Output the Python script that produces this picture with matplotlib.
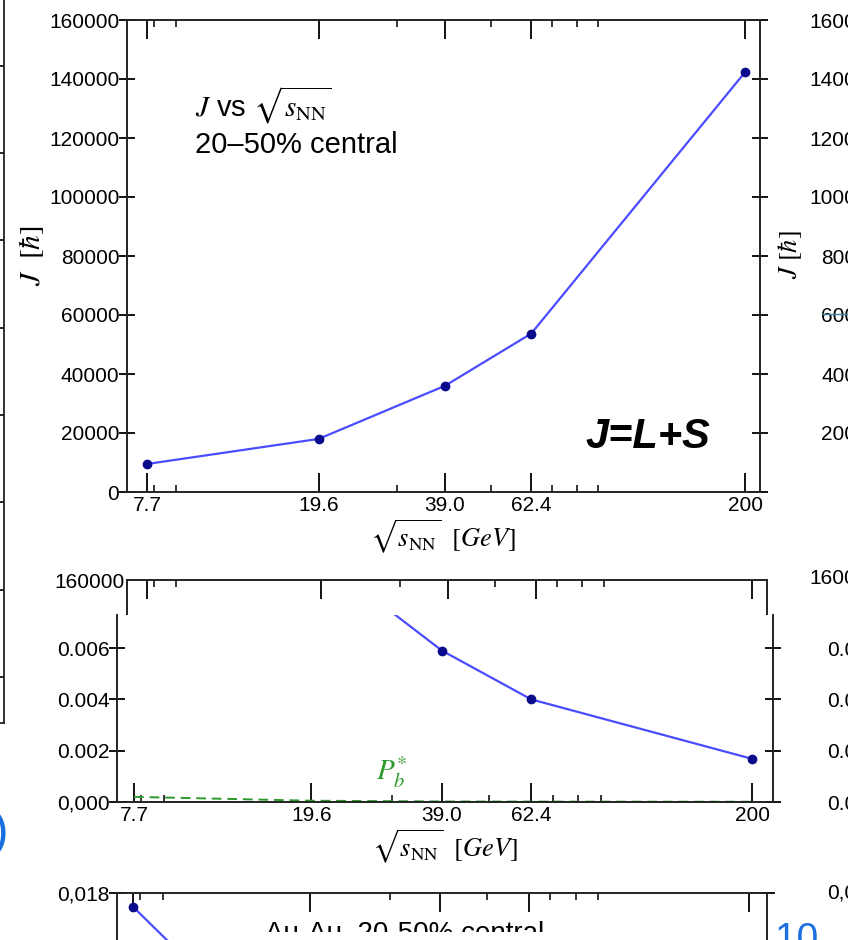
import numpy as np
import matplotlib
matplotlib.use("Agg")
import matplotlib.pyplot as plt
from matplotlib.patches import Rectangle

plt.rcParams['font.family'] = ['Liberation Sans', 'DejaVu Sans']
plt.rcParams['mathtext.fontset'] = 'stix'

# data
energies = [7.7, 19.6, 39.0, 62.4, 200]
energy_labels = ['7.7', '19.6', '39.0', '62.4', '200']
minor_energies = [8, 9, 30, 50, 70, 80, 90]
J_total = [9500, 18000, 36000, 53700, 142300]
P_lambda = [0.0175, 0.0098, 0.0059, 0.0040, 0.00168]
P_b = [0.0002, 0.00005, 0.00002, 0.000015, 0.00001]
P_bottom = [0.017, 0.0045, 0.0022, 0.0013, 0.0006]
J_ticks = [0, 20000, 40000, 60000, 80000, 100000, 120000, 140000, 160000]
P_ticks = [0.0, 0.002, 0.004, 0.006]
P_tick_labels = ['0,000', '0.002', '0.004', '0.006']

W, H = 848, 940
fig = plt.figure(figsize=(W / 100, H / 100), dpi=100)


def px(l, t, r, b):
    return [l / W, 1 - b / H, (r - l) / W, (b - t) / H]


def style_x(ax, top=True):
    ax.set_xscale('log')
    ax.set_xticks(energies)
    ax.set_xticklabels(energy_labels)
    ax.set_xticks(minor_energies, minor=True)
    ax.xaxis.set_minor_formatter(matplotlib.ticker.NullFormatter())
    ax.tick_params(axis='x', which='major', direction='in', length=14, width=1.3,
                   top=top, labelsize=15, pad=3)
    ax.tick_params(axis='x', which='minor', direction='in', length=5, width=1.1, top=top)
    ax.tick_params(axis='y', which='major', direction='inout', length=11, width=1.3,
                   right=True, labelsize=15, pad=0)
    ax.tick_params(axis='y', which='minor', length=0)
    for s in ax.spines.values():
        s.set_linewidth(1.4)
        s.set_color('#222222')


xlabel = r'$\sqrt{s_{\rm NN}}\ \ [GeV]$'
blue = '#4a4cff'
navy = '#0a0a8c'

# ---- main panel: J vs sqrt(s)
ax = fig.add_axes(px(127, 20, 760, 492))
ax.plot(energies, J_total, '-', color=blue, lw=1.6, marker='o', ms=6,
        mfc=navy, mec=navy)
style_x(ax)
ax.set_xlim(6.9, 217)
ax.set_ylim(0, 160000)
ax.set_yticks(J_ticks)
ax.set_xlabel(xlabel, fontsize=19, labelpad=2)
fig.text(32 / W, 1 - 256 / H, r'$J\ \ [\hbar]$', rotation=90, fontsize=21,
         ha='center', va='center')
ax.text((195 - 127) / 633, 1 - (105 - 20) / 472, r'$J$ vs $\sqrt{s_{\rm NN}}$',
        transform=ax.transAxes, fontsize=21, ha='left', va='center')
ax.text((195 - 127) / 633, 1 - (145 - 20) / 472, '20\u201350% central',
        transform=ax.transAxes, fontsize=21, ha='left', va='center')
ax.text((585 - 127) / 633, 1 - (437 - 20) / 472, 'J=L+S', transform=ax.transAxes,
        fontsize=30, fontweight='bold', fontstyle='italic', ha='left', va='center')

# ---- ghost frame of the panel underneath
gh = fig.add_axes(px(127, 580, 767, 615))
style_x(gh)
gh.set_xlim(6.9, 217)
gh.set_ylim(160000 - 35 * 160000 / 471, 160000)
gh.set_yticks([160000])
gh.spines['bottom'].set_visible(False)
gh.tick_params(axis='x', which='both', bottom=False, labelbottom=False)
gh.tick_params(axis='y', which='major', length=0, pad=2)

# ---- lower panel: polarization
ax2 = fig.add_axes(px(117, 615, 773, 802))
ax2.plot(energies, P_lambda, '-', color=blue, lw=1.6, marker='o', ms=6,
         mfc=navy, mec=navy)
ax2.plot(energies, P_b, '--', color='#2e9a2e', lw=1.4, dashes=(5, 3))
style_x(ax2, top=False)
ax2.spines['top'].set_visible(False)
ax2.set_xlim(7.04, 223)
ax2.set_ylim(0, 0.00729)
ax2.set_yticks(P_ticks)
ax2.set_yticklabels(P_tick_labels)
ax2.set_xlabel(xlabel, fontsize=19, labelpad=2)
ax2.text((392 - 117) / 656, (802 - 772) / 187, r'$P_b^{*}$', transform=ax2.transAxes,
         fontsize=21, color='#2e9a2e', ha='center', va='center')

# ---- bottom panel (cut off by the figure edge)
ax3 = fig.add_axes(px(117, 893, 767, 1143))
ax3.plot(energies, P_bottom, '-', color=blue, lw=1.6, marker='o', ms=6,
         mfc=navy, mec=navy)
style_x(ax3)
ax3.tick_params(axis='x', which='both', labelbottom=False)
ax3.set_xlim(7.07, 220)
ax3.set_ylim(0, 0.018)
ax3.set_yticks([0.018])
ax3.set_yticklabels(['0,018'])
fig.text(265 / W, 1 - 921 / H, 'Au-Au, 20-50% central', fontsize=20, ha='left', va='top')
fig.add_artist(Rectangle((200 / W, 0), 560 / W, 8 / H, transform=fig.transFigure,
                         facecolor='white', edgecolor='none', zorder=10))
fig.text(775 / W, 1 - 922 / H, '10', fontsize=28, color='#1a6fe0', ha='left', va='top',
         zorder=11)

# ---- neighbouring panels cropped at the edges
axl = fig.add_axes(px(-200, -10, 4, 723))
axl.set_xlim(0, 1)
axl.set_ylim(0, 733)
axl.set_yticks(np.arange(46, 700, 87.3))
axl.yaxis.tick_right()
axl.tick_params(axis='y', direction='in', length=9, width=1.2, labelright=False)
axl.set_xticks([])
axl.spines['top'].set_visible(False)
axl.spines['left'].set_visible(False)
for s in axl.spines.values():
    s.set_linewidth(1.3)
    s.set_color('#222222')
fig.text(-8 / W, 1 - 833 / H, ')', fontsize=36, color='#1a6fe0', ha='left', va='center')

axr = fig.add_axes(px(884, 20, 1100, 492))
axr.set_ylim(0, 160000)
axr.set_yticks(J_ticks)
axr.tick_params(axis='y', length=0, labelsize=15, pad=3)
axr.set_xticks([])
fig.text(790 / W, 1 - 255 / H, r'$J\ [\hbar]$', rotation=90, fontsize=19,
         ha='center', va='center')

axr2 = fig.add_axes(px(884, 615, 1100, 802))
axr2.set_ylim(0, 0.00729)
axr2.set_yticks(P_ticks)
axr2.set_yticklabels(['0.000', '0.002', '0.004', '0.006'])
axr2.tick_params(axis='y', length=0, labelsize=15, pad=3)
axr2.set_xticks([])
fig.text(880 / W, 1 - 578 / H, '160000', fontsize=15, ha='right', va='center')
fig.text(880 / W, 1 - 893 / H, '0,018', fontsize=15, ha='right', va='center')
fig.add_artist(plt.Line2D([822 / W, 1], [1 - 314 / H] * 2, color='#3a8a9a', lw=1))

fig.savefig('out.png', dpi=100)
